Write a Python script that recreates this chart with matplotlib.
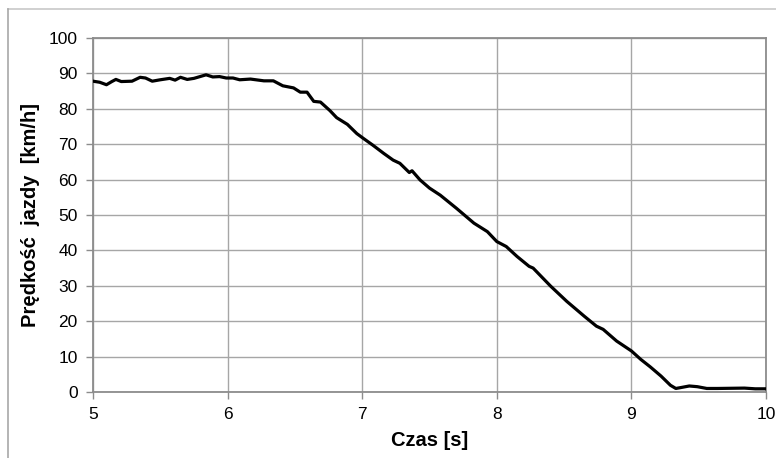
import matplotlib
matplotlib.use("Agg")
import matplotlib.pyplot as plt
from matplotlib.lines import Line2D

# Vehicle speed during braking
time_s = [5.00, 5.05, 5.10, 5.14, 5.17, 5.21, 5.29, 5.35, 5.39, 5.44, 5.50,
          5.57, 5.61, 5.65, 5.70, 5.75, 5.84, 5.89, 5.94, 5.99, 6.04, 6.09,
          6.17, 6.27, 6.34, 6.41, 6.49, 6.54, 6.59, 6.64, 6.69, 6.76, 6.81,
          6.89, 6.96, 7.01, 7.08, 7.16, 7.23, 7.28, 7.35, 7.37, 7.43, 7.50,
          7.58, 7.70, 7.83, 7.93, 8.00, 8.07, 8.15, 8.24, 8.27, 8.40, 8.52,
          8.65, 8.74, 8.79, 8.89, 9.00, 9.07, 9.14, 9.22, 9.29, 9.33, 9.36,
          9.43, 9.49, 9.56, 9.64, 9.74, 9.84, 9.92, 10.00]
speed_kmh = [87.8, 87.5, 86.8, 87.7, 88.3, 87.7, 87.8, 88.9, 88.7, 87.8, 88.2,
             88.6, 88.1, 88.9, 88.3, 88.6, 89.6, 89.0, 89.1, 88.7, 88.7, 88.2,
             88.4, 87.9, 87.9, 86.5, 85.9, 84.7, 84.7, 82.1, 81.9, 79.5, 77.5,
             75.6, 73.0, 71.6, 69.7, 67.4, 65.5, 64.6, 62.0, 62.5, 59.9, 57.6,
             55.6, 51.9, 47.7, 45.3, 42.5, 41.1, 38.3, 35.5, 35.0, 29.9, 25.6,
             21.4, 18.6, 17.7, 14.4, 11.6, 9.2, 7.1, 4.5, 1.9, 1.0, 1.2,
             1.7, 1.5, 1.0, 1.0, 1.05, 1.1, 0.9, 0.9]

x_ticks = [5, 6, 7, 8, 9, 10]
y_ticks = [0, 10, 20, 30, 40, 50, 60, 70, 80, 90, 100]

plt.rcParams["font.family"] = ["Liberation Sans", "DejaVu Sans"]

W, H = 776, 458
fig = plt.figure(figsize=(W / 100, H / 100), dpi=100)
fig.patch.set_facecolor("white")

# Outer chart frame (top and left edges)
fig.add_artist(Line2D([8 / W, 1.0], [1 - 9 / H, 1 - 9 / H], color="#c8c8c8", lw=1.2,
                      transform=fig.transFigure))
fig.add_artist(Line2D([8 / W, 8 / W], [0.0, 1 - 9 / H], color="#a8a8a8", lw=1.2,
                      transform=fig.transFigure))

ax = fig.add_axes([93 / W, 1 - 392 / H, (766 - 93) / W, (392 - 38) / H])
ax.plot(time_s, speed_kmh, color="black", lw=2.3, solid_joinstyle="round", zorder=3)

ax.set_xlim(5, 10)
ax.set_ylim(0, 100)
ax.set_xticks(x_ticks)
ax.set_yticks(y_ticks)
ax.set_xticklabels([str(v) for v in x_ticks])
ax.set_yticklabels([str(v) for v in y_ticks])

ax.grid(True, color="#a6a6a6", lw=1.0)
ax.set_axisbelow(True)
for side in ("left", "bottom", "top", "right"):
    ax.spines[side].set_color("#8c8c8c")
    ax.spines[side].set_linewidth(1.3)

ax.tick_params(axis="both", direction="out", length=5, width=1.0, color="#8c8c8c",
               labelsize=12.5, labelcolor="black")
ax.tick_params(axis="y", pad=6)
ax.tick_params(axis="x", pad=6)

ax.set_xlabel("Czas [s]", fontsize=14.5, fontweight="bold", labelpad=6)
ax.set_ylabel("Prędkość  jazdy  [km/h]", fontsize=14.5, fontweight="bold", labelpad=6)

fig.savefig("out.png", dpi=100, facecolor="white")
